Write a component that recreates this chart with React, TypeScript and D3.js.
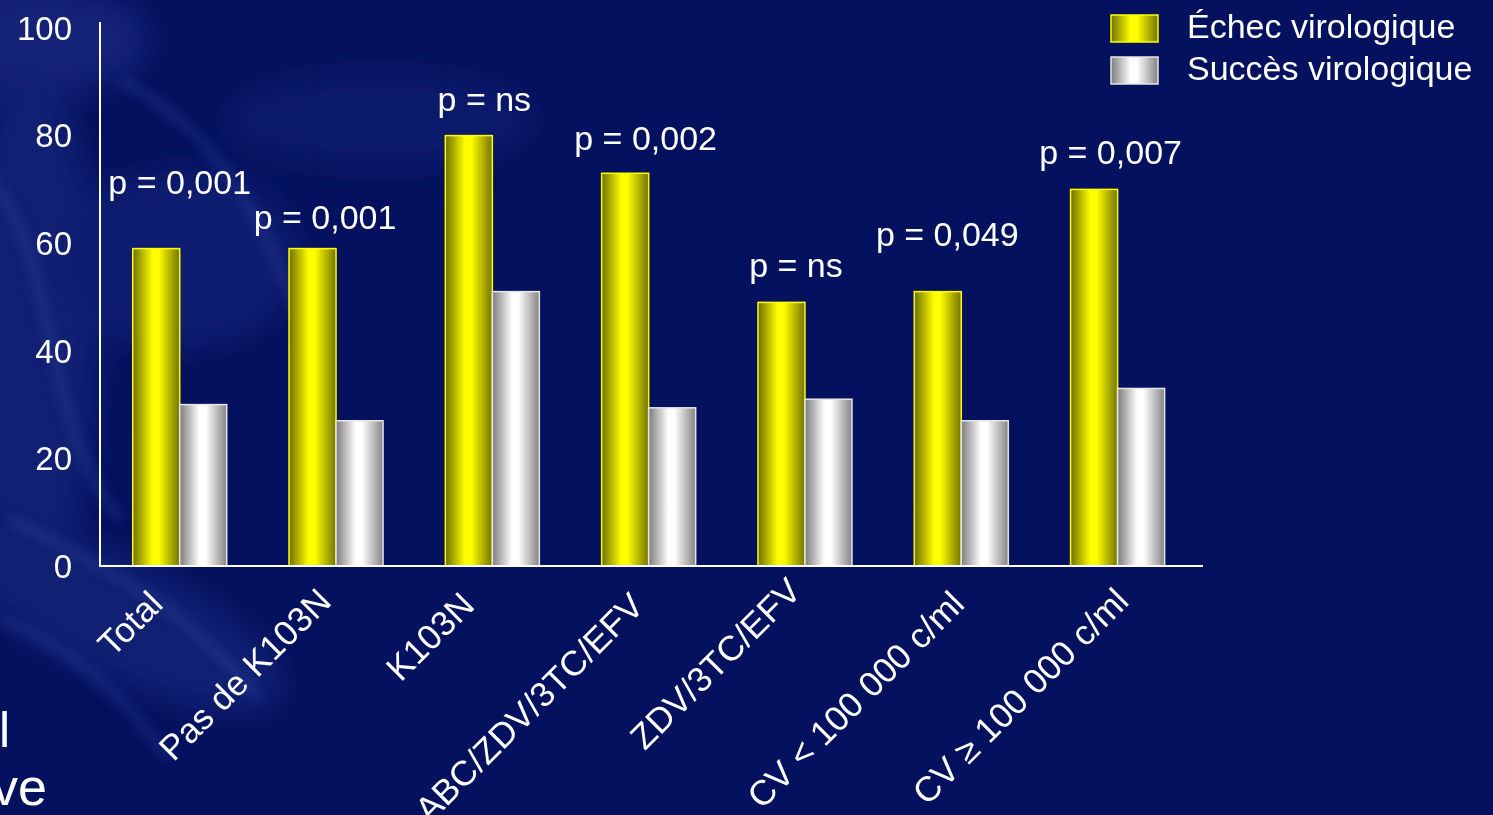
import React from "react";
import * as d3 from "d3";

// Chart data
const categories = [
  "Total",
  "Pas de K103N",
  "K103N",
  "ABC/ZDV/3TC/EFV",
  "ZDV/3TC/EFV",
  "CV < 100 000 c/ml",
  "CV ≥ 100 000 c/ml",
];
const echecValues = [59, 59, 80, 73, 49, 51, 70];
const succesValues = [30, 27, 51, 29.4, 31, 27, 33];
const pLabels = ["p = 0,001", "p = 0,001", "p = ns", "p = 0,002", "p = ns", "p = 0,049", "p = 0,007"];
const seriesNames = ["Échec virologique", "Succès virologique"];
const yTicks = [0, 20, 40, 60, 80, 100];

// Layout
const W = 1493;
const H = 815;
const X0 = 100;
const X1 = 1203;
const Y0 = 566;
const Y100 = 28;
const FONT = "'Liberation Sans', Arial, Helvetica, sans-serif";
const BG = "#04115e";

// Hand placement of the p-value annotations: [dx from group centre, lift above the yellow bar]
const pNudge: [number, number][] = [
  [0, 55],
  [-11, 20],
  [-8, 25],
  [-3, 23],
  [-9, 25],
  [-14, 46],
  [-7, 25],
];

// Hand placement of the rotated category labels: [dx from group centre, dy from base line]
const catNudge: [number, number][] = [
  [-15, -2],
  [-3, -5],
  [-16, -1],
  [-3, 0],
  [-2, -15],
  [5, -2],
  [13, -5],
];

export default function App() {
  const y = d3.scaleLinear().domain([0, 100]).range([Y0, Y100]);
  const x = d3
    .scaleBand<string>()
    .domain(categories)
    .range([X0, X1])
    .paddingInner(0.3986)
    .paddingOuter(0.2275)
    .align(0.46);
  const inner = d3.scaleBand<string>().domain(["echec", "succes"]).range([0, x.bandwidth()]);

  const rows = categories.map((c, i) => ({
    c,
    i,
    echec: echecValues[i],
    succes: succesValues[i],
    p: pLabels[i],
  }));

  return (
    <svg
      width={W}
      height={H}
      viewBox={`0 0 ${W} ${H}`}
      style={{ position: "absolute", left: 0, top: 0, display: "block" }}
    >
      <defs>
        <linearGradient id="gYellow" x1="0" x2="1" y1="0" y2="0">
          <stop offset="0" stopColor="#6f6f00" />
          <stop offset="0.42" stopColor="#ffff00" />
          <stop offset="0.55" stopColor="#ffff00" />
          <stop offset="1" stopColor="#747400" />
        </linearGradient>
        <linearGradient id="gWhite" x1="0" x2="1" y1="0" y2="0">
          <stop offset="0" stopColor="#7c7c7c" />
          <stop offset="0.42" stopColor="#ffffff" />
          <stop offset="0.55" stopColor="#ffffff" />
          <stop offset="1" stopColor="#848484" />
        </linearGradient>
        <filter id="soft" x="-50%" y="-50%" width="200%" height="200%">
          <feGaussianBlur stdDeviation="16" />
        </filter>
        <filter id="soft2" x="-50%" y="-50%" width="200%" height="200%">
          <feGaussianBlur stdDeviation="6" />
        </filter>
      </defs>

      <rect x={0} y={0} width={W} height={H} fill={BG} />

      {/* swirling lighter texture on the left side of the backdrop */}
      <g filter="url(#soft)" opacity={0.45}>
        <ellipse cx={40} cy={40} rx={110} ry={55} fill="#2a3b98" />
        <ellipse cx={30} cy={330} rx={70} ry={260} fill="#22358f" />
        <ellipse cx={180} cy={260} rx={120} ry={90} fill="#1d2f88" />
        <ellipse cx={120} cy={620} rx={180} ry={60} fill="#22348e" transform="rotate(25 120 620)" />
        <ellipse cx={380} cy={120} rx={160} ry={50} fill="#15267c" />
      </g>
      <g filter="url(#soft2)" fill="none" stroke="#3448a6" strokeWidth={10} opacity={0.35}>
        <path d="M-10,180 C60,260 40,420 120,520" />
        <path d="M10,520 C90,560 180,600 260,700" />
        <path d="M120,80 C200,120 260,200 300,320" />
        <path d="M0,620 C60,640 120,690 170,760" />
      </g>

      {/* fragments of slide body text along the left edge */}
      <text x={-1} y={747} fill="#fff" fontFamily={FONT} fontSize={50}>l</text>
      <text x={-8} y={805} fill="#fff" fontFamily={FONT} fontSize={52}>ve</text>

      {/* bars */}
      {rows.map((r) => {
        const gx = x(r.c)!;
        return (
          <g key={r.c} transform={`translate(${gx},0)`}>
            <rect
              x={inner("echec")!}
              y={y(r.echec)}
              width={inner.bandwidth()}
              height={Y0 - y(r.echec)}
              fill="url(#gYellow)"
              stroke="#ffff00"
              strokeWidth={1.5}
            />
            <rect
              x={inner("succes")!}
              y={y(r.succes)}
              width={inner.bandwidth()}
              height={Y0 - y(r.succes)}
              fill="url(#gWhite)"
              stroke="#e6e6e6"
              strokeWidth={1.5}
            />
          </g>
        );
      })}

      {/* axes */}
      <line x1={X0} x2={X0} y1={22} y2={Y0} stroke="#fff" strokeWidth={2} />
      <line x1={X0 - 1} x2={X1} y1={Y0} y2={Y0} stroke="#fff" strokeWidth={2} />

      {yTicks.map((t) => (
        <text
          key={t}
          x={72}
          y={y(t)}
          dy="0.36em"
          textAnchor="end"
          fill="#fff"
          fontFamily={FONT}
          fontSize={33}
        >
          {t}
        </text>
      ))}

      {/* category labels */}
      {rows.map((r) => {
        const cx = x(r.c)! + x.bandwidth() / 2;
        const [dx, dy] = catNudge[r.i];
        return (
          <text
            key={r.c}
            transform={`translate(${cx + dx},${608 + dy}) rotate(-45)`}
            textAnchor="end"
            fill="#fff"
            fontFamily={FONT}
            fontSize={35}
          >
            {r.c}
          </text>
        );
      })}

      {/* p-value annotations */}
      {rows.map((r) => {
        const cx = x(r.c)! + x.bandwidth() / 2;
        const [dx, lift] = pNudge[r.i];
        return (
          <text
            key={r.c}
            x={cx + dx}
            y={y(r.echec) - lift}
            textAnchor="middle"
            fill="#fff"
            fontFamily={FONT}
            fontSize={34}
          >
            {r.p}
          </text>
        );
      })}

      {/* legend */}
      {seriesNames.map((s, i) => (
        <g key={s} transform={`translate(1111,${15 + i * 42})`}>
          <rect
            x={0}
            y={0}
            width={47}
            height={27}
            fill={i === 0 ? "url(#gYellow)" : "url(#gWhite)"}
            stroke={i === 0 ? "#ffff00" : "#e6e6e6"}
            strokeWidth={1.5}
          />
          <text x={76} y={23} fill="#fff" fontFamily={FONT} fontSize={34}>
            {s}
          </text>
        </g>
      ))}
    </svg>
  );
}
